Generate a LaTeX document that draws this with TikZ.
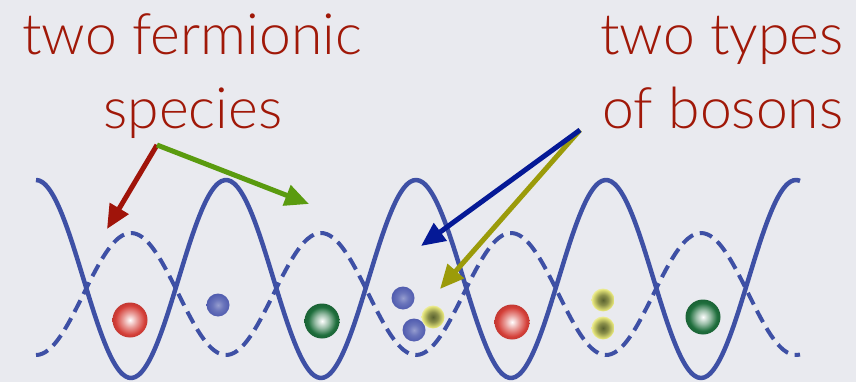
\documentclass[tikz,border=0pt]{standalone}
\usepackage{fontspec}
\setmainfont{Lato}[UprightFont=* Light]
\usetikzlibrary{arrows.meta}

\definecolor{bg}{RGB}{233,234,239}
\definecolor{lattice}{RGB}{62,80,165}
\definecolor{labelred}{RGB}{160,24,8}
\definecolor{arrred}{RGB}{160,20,10}
\definecolor{arrgreen}{RGB}{90,155,15}
\definecolor{arrblue}{RGB}{5,25,150}
\definecolor{arrolive}{RGB}{155,155,10}
\definecolor{ballred}{RGB}{212,62,55}
\definecolor{ballgreen}{RGB}{30,110,60}
\definecolor{ballblue}{RGB}{80,92,175}
\definecolor{ballyellow}{RGB}{228,228,120}
\definecolor{ballolive}{RGB}{90,98,48}

% radial shadings for the particles (25bp = rim of the circle)
\pgfdeclareradialshading{redball}{\pgfpoint{0bp}{0bp}}{%
  color(0bp)=(white); color(10bp)=(ballred!50!white); color(21bp)=(ballred);
  color(25bp)=(ballred!92!black); color(50bp)=(ballred!92!black)}
\pgfdeclareradialshading{greenball}{\pgfpoint{0bp}{0bp}}{%
  color(0bp)=(white); color(10bp)=(ballgreen!45!white); color(20bp)=(ballgreen);
  color(25bp)=(ballgreen!90!black); color(50bp)=(ballgreen!90!black)}
\pgfdeclareradialshading{blueball}{\pgfpoint{0bp}{0bp}}{%
  color(0bp)=(ballblue!60!white); color(12bp)=(ballblue!85!white);
  color(25bp)=(ballblue); color(50bp)=(ballblue)}
\pgfdeclareradialshading{yellowball}{\pgfpoint{0bp}{0bp}}{%
  color(0bp)=(ballolive); color(11bp)=(ballolive!65!ballyellow);
  color(23bp)=(ballyellow); color(25bp)=(ballyellow!70!white); color(50bp)=(ballyellow!70!white)}

\tikzset{
  label text/.style={text=labelred, font=\fontsize{57}{60}\selectfont, anchor=base, inner sep=0pt},
  deep well/.style={draw=lattice, line width=4.5pt, line join=round},
  shallow well/.style={draw=lattice, line width=4pt, dash pattern=on 13pt off 7pt},
  pointer/.style={line width=5pt, -{Triangle[length=24pt,width=21pt]}},
  fermion/.style={circle, minimum size=35pt, inner sep=0pt, shade},
  boson/.style={circle, minimum size=23pt, inner sep=0pt, shade},
}

\begin{document}
\begin{tikzpicture}[x=1pt, y=-1pt]
\fill[bg] (0,0) rectangle (856,382);
\useasboundingbox (0,0) rectangle (856,382);

% optical lattices: deep (solid) and shallow (dashed), opposite phase
\draw[deep well] plot[domain=36:800, samples=240, smooth]
  (\x, {279-99*cos(1.894737*(\x-36))});
\draw[shallow well] plot[domain=36:800, samples=240, smooth]
  (\x, {294+61*cos(1.894737*(\x-36))});

% particles
\node[fermion, shading=redball]   (fA1) at (130,320) {};
\node[boson,   shading=blueball]  (bB1) at (218,305) {};
\node[fermion, shading=greenball] (fB1) at (322,321) {};
\node[boson,   shading=blueball]  (bB2) at (403,298) {};
\node[boson,   shading=blueball]  (bB3) at (414,330) {};
\node[boson,   shading=yellowball](bY1) at (433,317) {};
\node[fermion, shading=redball]   (fA2) at (512,322) {};
\node[boson,   shading=yellowball](bY2) at (603,300) {};
\node[boson,   shading=yellowball](bY3) at (603,328) {};
\node[fermion, shading=greenball] (fB2) at (703,317) {};

% labels
\node[label text] (fermA) at (192,55) {two fermionic};
\node[label text] (fermB) at (193,129) {species};
\node[label text] (bosA)  at (722,55) {two types};
\node[label text] (bosB)  at (723,129) {of bosons};

% pointer anchors
\coordinate (fermSrc)  at (157,145);
\coordinate (redTip)   at (107,229);
\coordinate (greenTip) at (309,204);
\coordinate (bosSrc)   at (580,130);
\coordinate (blueTip)  at (421,246);
\coordinate (oliveTip) at (440,289);

\draw[pointer, arrred]   (fermSrc) -- (redTip);
\draw[pointer, arrgreen] (fermSrc) -- (greenTip);
\draw[pointer, arrolive] (bosSrc)  -- (oliveTip);
\draw[pointer, arrblue]  (bosSrc)  -- (blueTip);
\end{tikzpicture}
\end{document}
